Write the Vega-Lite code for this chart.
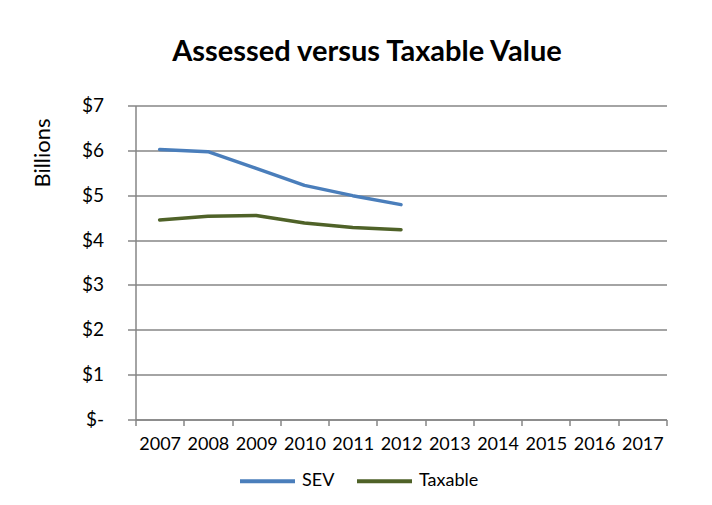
{
  "$schema": "https://vega.github.io/schema/vega-lite/v6.json",
  "autosize": {"type": "none"},
  "width": 531,
  "height": 314,
  "padding": {"left": 135.5, "top": 105.5, "right": 45.5, "bottom": 85.5},
  "background": "white",
  "title": {
    "text": "Assessed versus Taxable Value",
    "font": "Lato",
    "fontSize": 29,
    "fontWeight": "bold",
    "color": "black",
    "anchor": "middle",
    "dx": -34,
    "offset": 30
  },
  "data": {
    "values": [
      {"year": "2007", "series": "SEV", "value": 6.02},
      {"year": "2008", "series": "SEV", "value": 5.97},
      {"year": "2009", "series": "SEV", "value": 5.60},
      {"year": "2010", "series": "SEV", "value": 5.22},
      {"year": "2011", "series": "SEV", "value": 4.99},
      {"year": "2012", "series": "SEV", "value": 4.79},
      {"year": "2007", "series": "Taxable", "value": 4.45},
      {"year": "2008", "series": "Taxable", "value": 4.53},
      {"year": "2009", "series": "Taxable", "value": 4.55},
      {"year": "2010", "series": "Taxable", "value": 4.38},
      {"year": "2011", "series": "Taxable", "value": 4.28},
      {"year": "2012", "series": "Taxable", "value": 4.23}
    ]
  },
  "mark": {"type": "line", "strokeWidth": 3.5, "strokeCap": "round", "strokeJoin": "round"},
  "encoding": {
    "x": {
      "field": "year",
      "type": "ordinal",
      "bandPosition": 0.5,
      "scale": {
        "type": "band",
        "paddingInner": 0,
        "paddingOuter": 0,
        "domain": ["2007", "2008", "2009", "2010", "2011", "2012", "2013", "2014", "2015", "2016", "2017"]
      },
      "axis": {
        "title": null,
        "labelAngle": 0,
        "tickBand": "extent",
        "tickSize": 6,
        "labelPadding": 10,
        "grid": false
      }
    },
    "y": {
      "field": "value",
      "type": "quantitative",
      "scale": {"domain": [0, 7], "nice": false},
      "axis": {
        "title": "Billions",
        "values": [0, 1, 2, 3, 4, 5, 6, 7],
        "labelExpr": "datum.value == 0 ? '$-\u00a0\u00a0\u00a0\u00a0' : '$' + datum.value",
        "tickSize": 8,
        "labelPadding": 24,
        "labelFontSize": 19,
        "grid": true,
        "titleFontSize": 22,
        "titleAngle": -90,
        "titleX": -93,
        "titleY": 47,
        "titleAlign": "center",
        "titleBaseline": "middle"
      }
    },
    "color": {
      "field": "series",
      "type": "nominal",
      "scale": {"domain": ["SEV", "Taxable"], "range": ["#4a7ebb", "#4f6228"]},
      "legend": {
        "title": null,
        "orient": "none",
        "direction": "horizontal",
        "legendX": 102.5,
        "legendY": 346,
        "symbolType": "stroke",
        "symbolSize": 3025,
        "symbolStrokeWidth": 4,
        "columnPadding": 14,
        "labelOffset": 5
      }
    }
  },
  "config": {
    "view": {"stroke": null},
    "font": "Lato",
    "axis": {
      "domainColor": "#868686",
      "tickColor": "#868686",
      "gridColor": "#868686",
      "domainWidth": 1.5,
      "tickWidth": 1.5,
      "gridWidth": 1.5,
      "labelFont": "Lato",
      "labelFontSize": 18,
      "labelColor": "black",
      "titleFont": "Lato",
      "titleFontSize": 18,
      "titleFontWeight": "normal",
      "titleColor": "black"
    },
    "legend": {
      "labelFont": "Lato",
      "labelFontSize": 18,
      "labelColor": "black"
    }
  }
}
